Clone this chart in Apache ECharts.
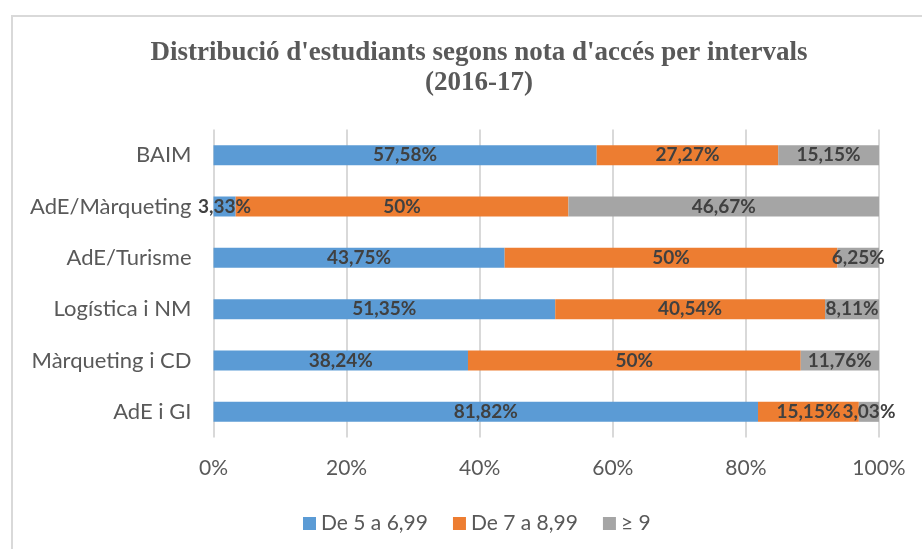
<!DOCTYPE html>
<html>
<head>
<meta charset="utf-8">
<script src="https://cdn.jsdelivr.net/npm/echarts@6/dist/echarts.min.js"></script>
<style>
  html, body { margin: 0; padding: 0; background: #fff; }
  #container { width: 922px; height: 549px; }
</style>
</head>
<body>
<div id="container"></div>
<script>
    // categories (top to bottom) and the three grade ranges
    var graus = ["BAIM", "AdE/Màrqueting", "AdE/Turisme", "Logística i NM", "Màrqueting i CD", "AdE i GI"];
    var de5a699 = [57.58, 3.33, 43.75, 51.35, 38.24, 81.82];
    var de7a899 = [27.27, 50, 50, 40.54, 50, 15.15];
    var mesDe9 = [15.15, 46.67, 6.25, 8.11, 11.76, 3.03];
    var noms = ["De 5 a 6,99", "De 7 a 8,99", "≥ 9"];
    var colors = ["#5B9BD5", "#ED7D31", "#A5A5A5"];

    var font = "Lato";
    var textGrey = "#595959";

    function Make_Series(name, data, color)
    {
        return {
            name: name,
            type: 'bar',
            stack: 'total',
            barWidth: 20,
            data: data,
            itemStyle: { color: color },
            label: {
                show: true,
                position: 'inside',
                fontFamily: font,
                fontWeight: 'bold',
                fontSize: 19,
                color: '#404040',
                formatter: function (p) {
                    return String(p.value).replace('.', ',') + '%';//coma decimal
                }
            }
        };
    }

    var myChart = echarts.init(document.getElementById("container"));
    myChart.setOption({
        animation: false,
        graphic: [{
            type: 'rect',
            shape: { x: 12, y: 16, width: 1000, height: 1000 },
            style: { fill: 'none', stroke: '#D9D9D9', lineWidth: 2 },
            silent: true
        }],
        title: {
            text: "Distribució d'estudiants segons nota d'accés per intervals\n(2016-17)",
            left: 474,
            top: 33,
            textAlign: 'center',
            textStyle: {
                fontFamily: 'Liberation Serif',
                fontWeight: 'bold',
                fontSize: 27,
                lineHeight: 30,
                color: textGrey
            }
        },
        legend: {
            data: noms,
            left: 298,
            top: 508,
            icon: 'rect',
            itemWidth: 13,
            itemHeight: 13,
            itemGap: 25,
            textStyle: { fontFamily: font, fontSize: 21, color: textGrey }
        },
        grid: { left: 213.5, right: 43, top: 129.5, bottom: 111.5, containLabel: false },
        xAxis: {
            type: 'value',
            min: 0,
            max: 100,
            interval: 20,
            axisLine: { show: false },
            axisTick: { show: false },
            splitLine: { show: true, lineStyle: { color: '#D9D9D9', width: 2 } },
            axisLabel: {
                formatter: '{value}%',
                fontFamily: font,
                fontSize: 21,
                color: textGrey,
                margin: 20
            }
        },
        yAxis: {
            type: 'category',
            inverse: true,
            data: graus,
            axisLine: { show: false },
            axisTick: { show: false },
            axisLabel: { fontFamily: font, fontSize: 22, color: textGrey, margin: 22 }
        },
        series: [
            Make_Series(noms[0], de5a699, colors[0]),
            Make_Series(noms[1], de7a899, colors[1]),
            Make_Series(noms[2], mesDe9, colors[2])
        ]
    });
</script>
</body>
</html>
